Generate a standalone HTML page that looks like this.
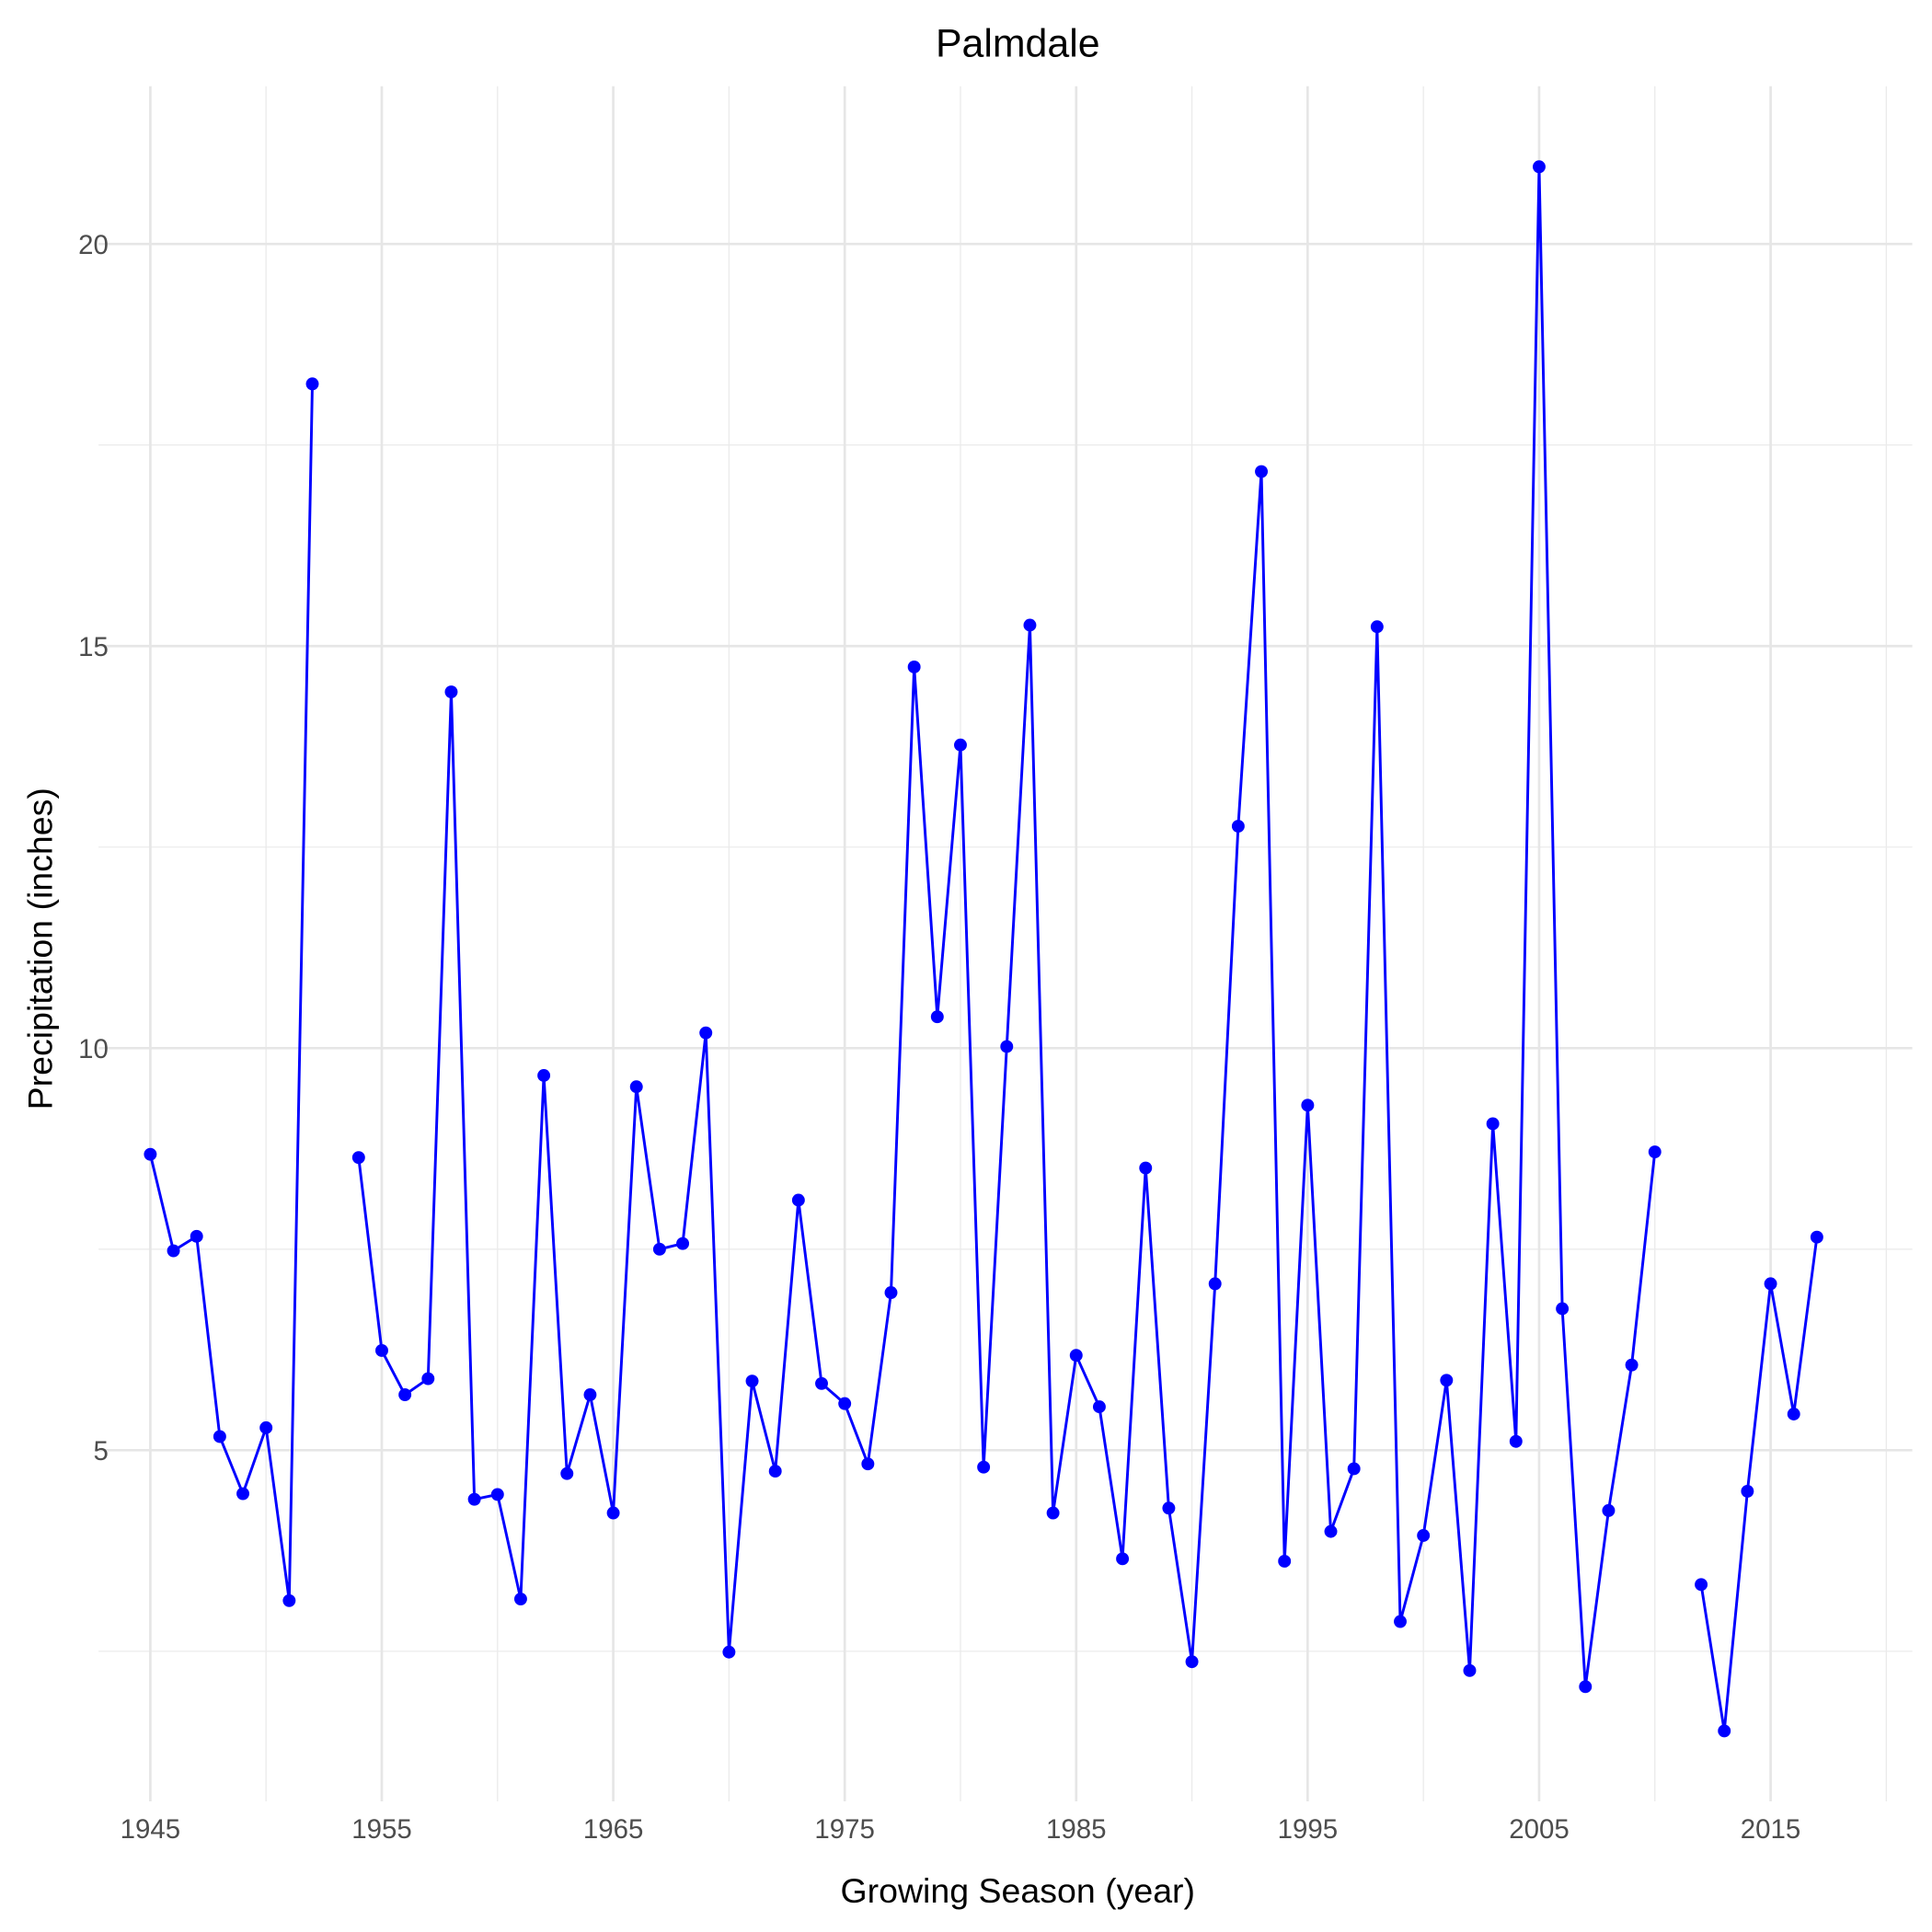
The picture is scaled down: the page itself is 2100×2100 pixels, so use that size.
<!DOCTYPE html>
<html><head><meta charset="utf-8"><style>html,body{margin:0;padding:0;background:#fff}svg{display:block}</style></head>
<body>
<svg id="chart" width="2100" height="2100" viewBox="0 0 1568 1568" xmlns="http://www.w3.org/2000/svg" font-family="Liberation Sans, Arial, sans-serif">
<g id="grid"></g>
<g id="series"></g>
<g id="axes"></g>
<text x="826" y="46" font-size="32" text-anchor="middle" fill="#000">Palmdale</text>
<text x="826" y="1544" font-size="28" text-anchor="middle" fill="#000">Growing Season (year)</text>
<text x="0" y="0" font-size="28" text-anchor="middle" fill="#000" transform="translate(42,770) rotate(-90)">Precipitation (inches)</text>
</svg>
<script>
const years=[1945,1946,1947,1948,1949,1950,1951,1952,1953,1954,1955,1956,1957,1958,1959,1960,1961,1962,1963,1964,1965,1966,1967,1968,1969,1970,1971,1972,1973,1974,1975,1976,1977,1978,1979,1980,1981,1982,1983,1984,1985,1986,1987,1988,1989,1990,1991,1992,1993,1994,1995,1996,1997,1998,1999,2000,2001,2002,2003,2004,2005,2006,2007,2008,2009,2010,2011,2012,2013,2014,2015,2016,2017];
const precip=[8.68,7.48,7.66,5.17,4.46,5.28,3.13,18.26,null,8.64,6.24,5.69,5.89,14.43,4.39,4.45,3.15,9.66,4.71,5.69,4.22,9.52,7.50,7.57,10.19,2.49,5.86,4.74,8.11,5.83,5.58,4.83,6.96,14.74,10.39,13.77,4.79,10.02,15.26,4.22,6.18,5.54,3.65,8.51,4.28,2.37,7.07,12.76,17.17,3.62,9.29,3.99,4.77,15.24,2.87,3.94,5.87,2.26,9.06,5.11,20.96,6.76,2.06,4.25,6.06,8.71,null,3.33,1.51,4.49,7.07,5.45,7.65];
const xTicks=[1945,1955,1965,1975,1985,1995,2005,2015];
const xMinor=[1950,1960,1970,1980,1990,2000,2010,2020];
const yTicks=[5,10,15,20];
const yMinor=[2.5,7.5,12.5,17.5];
const NS='http://www.w3.org/2000/svg';
const PL=80,PR=1552,PT=70,PB=1462;
function xs(v){return 122+(v-1945)*(1437-122)/70;}
function ys(v){return 1177-(v-5)*(1177-198)/15;}
function mk(tag,attrs,parent){const e=document.createElementNS(NS,tag);for(const k in attrs)e.setAttribute(k,attrs[k]);parent.appendChild(e);return e;}
const grid=document.getElementById('grid'),axes=document.getElementById('axes'),ser=document.getElementById('series');
yMinor.forEach(v=>{const l=mk('line',{x1:PL,x2:PR,y1:ys(v),y2:ys(v),stroke:'#ebebeb','stroke-width':1},grid);

});
xMinor.forEach(v=>{const l=mk('line',{x1:xs(v),x2:xs(v),y1:PT,y2:PB,stroke:'#ebebeb','stroke-width':1},grid);

});
yTicks.forEach(v=>{const l=mk('line',{x1:PL,x2:PR,y1:ys(v),y2:ys(v),stroke:'#e6e6e6','stroke-width':2},grid);


const t=mk('text',{x:88,y:ys(v)+8,'font-size':22,'text-anchor':'end',fill:'#4d4d4d'},axes);t.textContent=v;

});
xTicks.forEach(v=>{const l=mk('line',{x1:xs(v),x2:xs(v),y1:PT,y2:PB,stroke:'#e6e6e6','stroke-width':2},grid);


const t=mk('text',{x:xs(v),y:1492,'font-size':22,'text-anchor':'middle',fill:'#4d4d4d'},axes);t.textContent=v;

});
let segs=[],cur=[];
years.forEach((y,i)=>{if(precip[i]==null){if(cur.length)segs.push(cur);cur=[];}else cur.push(xs(y)+','+ys(precip[i]));});
if(cur.length)segs.push(cur);
segs.forEach(s=>{const p=mk('polyline',{points:s.join(' '),fill:'none',stroke:'#0000ff','stroke-width':2.2,'stroke-linejoin':'round'},ser);

});
years.forEach((y,i)=>{if(precip[i]==null)return;const c=mk('circle',{cx:xs(y),cy:ys(precip[i]),r:5.2,fill:'#0000ff'},ser);

});
</script>
</body></html>
